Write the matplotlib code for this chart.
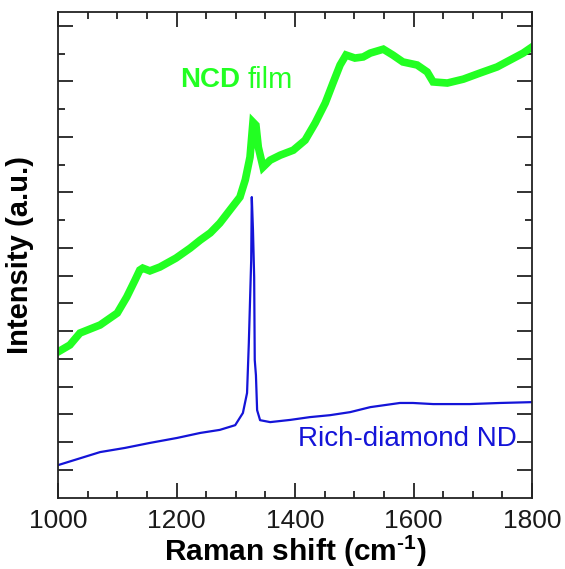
import matplotlib
matplotlib.use("Agg")
import matplotlib.pyplot as plt
from matplotlib.ticker import FixedLocator

# NCD film spectrum (Raman shift, intensity a.u.)
ncd_x = [1000, 1020, 1037, 1071, 1100, 1116, 1130, 1138, 1143, 1155, 1172, 1199,
         1223, 1240, 1257, 1273, 1290, 1307, 1316, 1324, 1329, 1334, 1338, 1346,
         1358, 1375, 1397, 1417, 1434, 1451, 1464, 1476, 1486, 1501, 1515, 1527,
         1549, 1565, 1582, 1606, 1623, 1633, 1657, 1684, 1712, 1741, 1763, 1785, 1800]
ncd_y = [5.25, 5.50, 5.93, 6.22, 6.65, 7.23, 7.84, 8.20, 8.27, 8.17, 8.31, 8.63,
         8.99, 9.28, 9.54, 9.89, 10.36, 10.83, 11.45, 12.27, 13.53, 13.42, 12.63, 11.91,
         12.16, 12.34, 12.52, 12.88, 13.50, 14.22, 14.94, 15.59, 15.95, 15.84, 15.88, 16.02,
         16.16, 15.95, 15.70, 15.59, 15.34, 14.98, 14.94, 15.08, 15.30, 15.52, 15.77, 16.02, 16.24]

# Rich-diamond ND spectrum
nd_x = [1000, 1071, 1113, 1155, 1201, 1240, 1273, 1299, 1312, 1319, 1322, 1326,
        1327, 1329, 1331, 1332, 1334, 1336, 1341, 1358, 1392, 1425, 1459, 1493,
        1527, 1577, 1599, 1633, 1695, 1746, 1800]
nd_y = [1.17, 1.64, 1.79, 1.97, 2.15, 2.33, 2.44, 2.61, 3.05, 3.77, 5.57, 8.56,
        10.83, 9.64, 7.95, 4.96, 4.41, 3.15, 2.79, 2.72, 2.80, 2.90, 2.97, 3.08,
        3.26, 3.41, 3.41, 3.37, 3.37, 3.41, 3.44]

xticks = [1000, 1200, 1400, 1600, 1800]
xminor = [1050, 1100, 1150, 1250, 1300, 1350, 1450, 1500, 1550, 1650, 1700, 1750]
ymajor = [1, 2, 3, 4, 5, 6, 7, 8, 9, 11, 13, 15, 17]
yminor = [10, 12, 14, 16]

GREEN = "#22ff22"
BLUE = "#1414d8"
AXC = "#222222"

plt.rcParams.update({
    "font.family": ["Liberation Sans", "DejaVu Sans"],
    "mathtext.fontset": "custom",
    "mathtext.rm": "Liberation Sans",
    "mathtext.bf": "Liberation Sans:bold",
})

fig = plt.figure(figsize=(5.65, 5.69), dpi=100)
ax = fig.add_axes([0.1027, 0.1255, 0.839, 0.8534])

ax.plot(ncd_x, ncd_y, color=GREEN, linewidth=5.5, solid_joinstyle="miter")
ax.plot(nd_x, nd_y, color=BLUE, linewidth=1.6)

ax.set_xlim(1000, 1800)
ax.set_ylim(0, 17.5)

ax.xaxis.set_major_locator(FixedLocator(xticks))
ax.xaxis.set_minor_locator(FixedLocator(xminor))
ax.yaxis.set_major_locator(FixedLocator(ymajor))
ax.yaxis.set_minor_locator(FixedLocator(yminor))
ax.set_yticklabels([])
ax.set_xticklabels([str(t) for t in xticks])

for s in ax.spines.values():
    s.set_linewidth(1.3)
    s.set_color(AXC)
ax.tick_params(which="both", direction="in", top=True, right=True,
               color=AXC, width=1.3)
ax.tick_params(which="major", length=11)
ax.tick_params(which="minor", length=5)
ax.tick_params(axis="x", which="major", labelsize=19, pad=8, labelcolor="#1a1a1a")

ax.set_xlabel("Raman shift (cm$^{\\mathbf{\u20101}}$)", fontsize=21.5,
              fontweight="bold", labelpad=0)
ax.set_ylabel("Intensity (a.u.)", fontsize=21, fontweight="bold", labelpad=14)

ax.text(0.257, 0.86, "NCD", transform=ax.transAxes, color=GREEN, fontsize=20,
        fontweight="bold", ha="left", va="center")
ax.text(0.401, 0.86, "film", transform=ax.transAxes, color=GREEN, fontsize=21,
        ha="left", va="center")
ax.text(0.968, 0.12, "Rich-diamond ND", transform=ax.transAxes, color=BLUE,
        fontsize=20, ha="right", va="center")

fig.savefig("out.png", dpi=100)
